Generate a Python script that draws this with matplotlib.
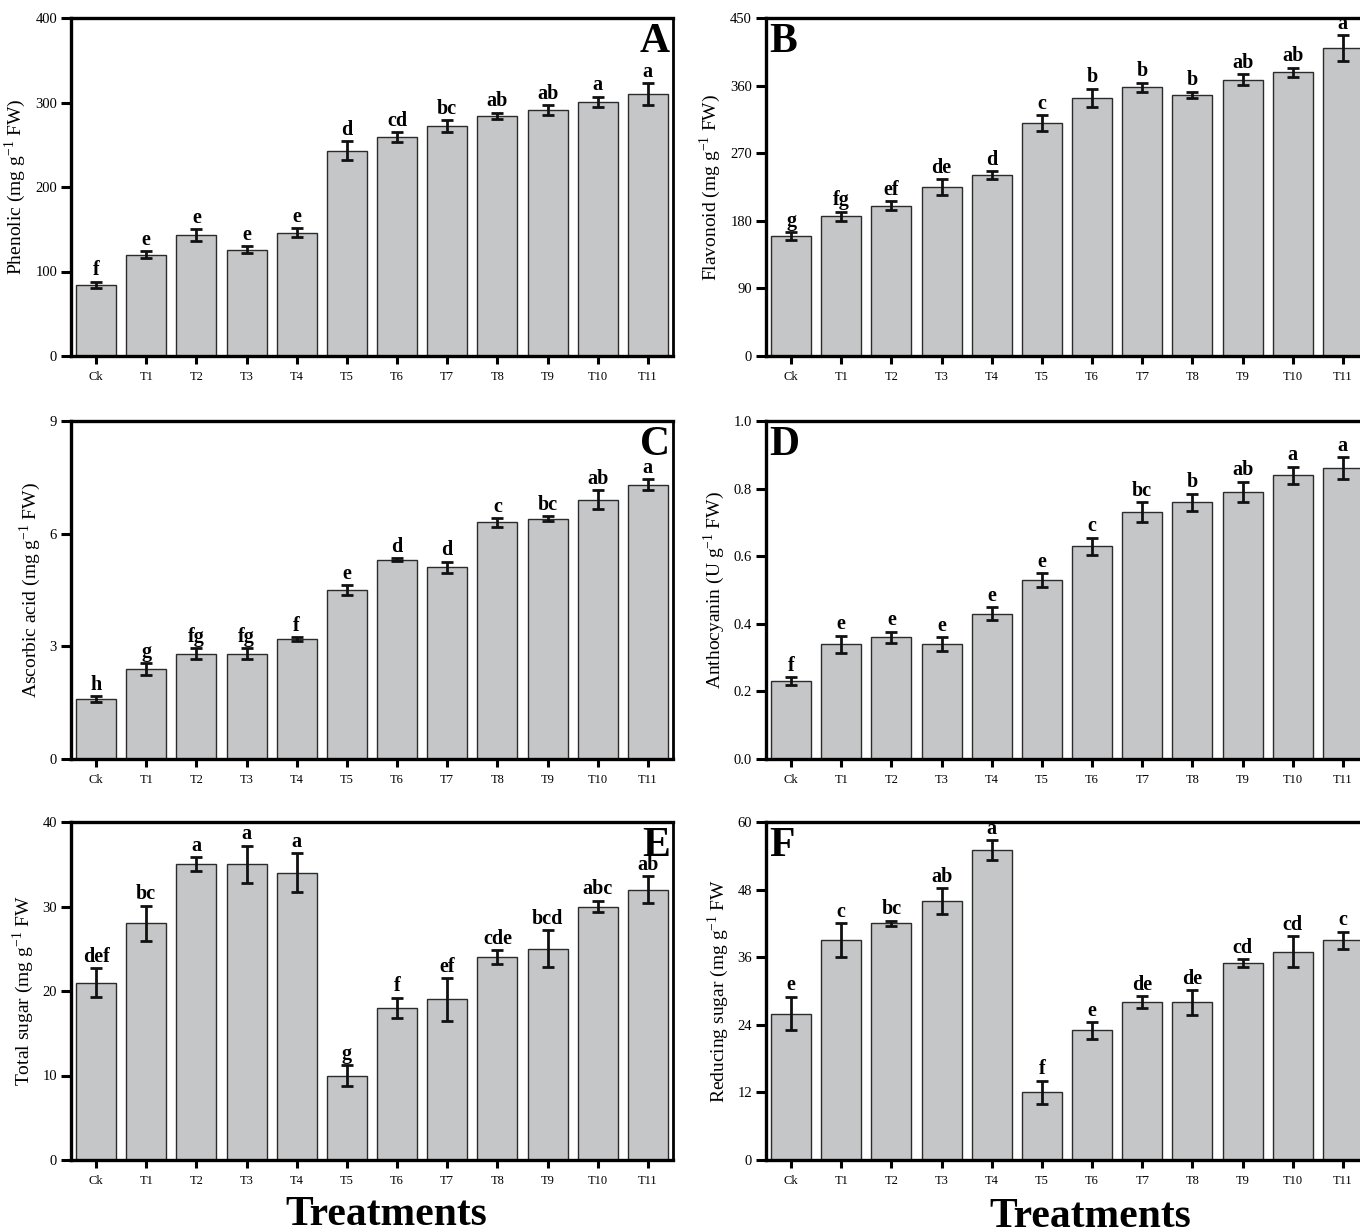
import matplotlib
matplotlib.use("Agg")
import matplotlib.pyplot as plt
import numpy as np

plt.rcParams['font.family'] = ['Liberation Serif', 'DejaVu Serif']
plt.rcParams['mathtext.fontset'] = 'custom'
plt.rcParams['mathtext.rm'] = 'Liberation Serif'

treatments = ["Ck", "T1", "T2", "T3", "T4", "T5", "T6", "T7", "T8", "T9", "T10", "T11"]

phenolic = [84, 120, 143, 126, 146, 243, 259, 272, 284, 291, 301, 310]
phenolic_err = [4, 4, 7, 4, 5, 11, 6, 7, 4, 6, 6, 13]
phenolic_grp = ["f", "e", "e", "e", "e", "d", "cd", "bc", "ab", "ab", "a", "a"]

flavonoid = [160, 186, 200, 225, 241, 310, 344, 358, 348, 368, 378, 410]
flavonoid_err = [5, 6, 6, 10, 5, 11, 12, 6, 4, 7, 6, 17]
flavonoid_grp = ["g", "fg", "ef", "de", "d", "c", "b", "b", "b", "ab", "ab", "a"]

ascorbic = [1.6, 2.4, 2.8, 2.8, 3.2, 4.5, 5.3, 5.1, 6.3, 6.4, 6.9, 7.3]
ascorbic_err = [0.08, 0.15, 0.15, 0.15, 0.05, 0.12, 0.04, 0.15, 0.12, 0.07, 0.25, 0.15]
ascorbic_grp = ["h", "g", "fg", "fg", "f", "e", "d", "d", "c", "bc", "ab", "a"]

anthocyanin = [0.23, 0.34, 0.36, 0.34, 0.43, 0.53, 0.63, 0.73, 0.76, 0.79, 0.84, 0.86]
anthocyanin_err = [0.012, 0.025, 0.017, 0.02, 0.02, 0.02, 0.025, 0.03, 0.025, 0.03, 0.025, 0.033]
anthocyanin_grp = ["f", "e", "e", "e", "e", "e", "c", "bc", "b", "ab", "a", "a"]

total_sugar = [21, 28, 35, 35, 34, 10, 18, 19, 24, 25, 30, 32]
total_sugar_err = [1.7, 2.1, 0.8, 2.2, 2.3, 1.2, 1.2, 2.5, 0.8, 2.2, 0.7, 1.6]
total_sugar_grp = ["def", "bc", "a", "a", "a", "g", "f", "ef", "cde", "bcd", "abc", "ab"]

reducing_sugar = [26, 39, 42, 46, 55, 12, 23, 28, 28, 35, 37, 39]
reducing_sugar_err = [3.0, 3.0, 0.5, 2.3, 1.8, 2.1, 1.5, 1.1, 2.2, 0.7, 2.7, 1.5]
reducing_sugar_grp = ["e", "c", "bc", "ab", "a", "f", "e", "de", "de", "cd", "cd", "c"]

W, H = 1360, 1232
fig = plt.figure(figsize=(W / 100, H / 100), dpi=100)

BAR_COLOR = "#c5c6c8"

panels = [
    # (left px, top px, values, errors, groups, ymax, yticks, ylabel, letter, letter side)
    (71, 18, phenolic, phenolic_err, phenolic_grp, 400, [0, 100, 200, 300, 400],
     r"Phenolic (mg g$^{-1}$ FW)", "A", "right"),
    (766, 18, flavonoid, flavonoid_err, flavonoid_grp, 450, [0, 90, 180, 270, 360, 450],
     r"Flavonoid (mg g$^{-1}$ FW)", "B", "left"),
    (71, 421, ascorbic, ascorbic_err, ascorbic_grp, 9, [0, 3, 6, 9],
     r"Ascorbic acid (mg g$^{-1}$ FW)", "C", "right"),
    (766, 421, anthocyanin, anthocyanin_err, anthocyanin_grp, 1.0, [0.0, 0.2, 0.4, 0.6, 0.8, 1.0],
     r"Anthocyanin (U g$^{-1}$ FW)", "D", "left"),
    (71, 822, total_sugar, total_sugar_err, total_sugar_grp, 40, [0, 10, 20, 30, 40],
     r"Total sugar (mg g$^{-1}$ FW", "E", "right"),
    (766, 822, reducing_sugar, reducing_sugar_err, reducing_sugar_grp, 60, [0, 12, 24, 36, 48, 60],
     r"Reducing sugar (mg g$^{-1}$ FW", "F", "left"),
]

AX_W, AX_H = 602, 338

for left, top, vals, errs, grps, ymax, yticks, ylabel, letter, side in panels:
    ax = fig.add_axes([left / W, 1 - (top + AX_H) / H, AX_W / W, AX_H / H])
    x = np.arange(len(treatments))
    ax.bar(x, vals, width=0.8, color=BAR_COLOR, edgecolor="#2b2b2b", linewidth=1.0, zorder=2)
    ax.errorbar(x, vals, yerr=errs, fmt="none", ecolor="#111111", elinewidth=2.0,
                capsize=4, capthick=2.0, zorder=3)
    for xi, v, e, g in zip(x, vals, errs, grps):
        ax.text(xi, v + e + ymax * 0.004, g, ha="center", va="bottom",
                fontsize=14.5, fontweight="bold", zorder=4)
    ax.set_xlim(-0.5, 11.5)
    ax.set_ylim(0, ymax)
    ax.set_xticks(x)
    ax.set_xticklabels(treatments, fontsize=9)
    ax.set_yticks(yticks)
    ax.set_yticklabels([f"{t:g}" if ymax > 1.5 else f"{t:.1f}" for t in yticks], fontsize=10.5)
    ax.tick_params(axis="y", direction="out", length=7, width=2.2, pad=3)
    ax.tick_params(axis="x", direction="out", length=6, width=2.2, pad=5)
    for name, s in ax.spines.items():
        s.set_linewidth(2.0 if name == "right" else 2.4)
    ax.set_ylabel(ylabel, fontsize=14, labelpad=5)
    if side == "right":
        ax.text(0.995, 0.985, letter, transform=ax.transAxes, ha="right", va="top",
                fontsize=30, fontweight="bold", zorder=5)
    else:
        ax.text(0.005, 0.985, letter, transform=ax.transAxes, ha="left", va="top",
                fontsize=30, fontweight="bold", zorder=5)

fig.text(386 / W, 1 - 1215 / H, "Treatments", ha="center", va="center",
         fontsize=30, fontweight="bold")
fig.text(1090 / W, 1 - 1217 / H, "Treatments", ha="center", va="center",
         fontsize=30, fontweight="bold")

fig.savefig("out.png", dpi=100)
